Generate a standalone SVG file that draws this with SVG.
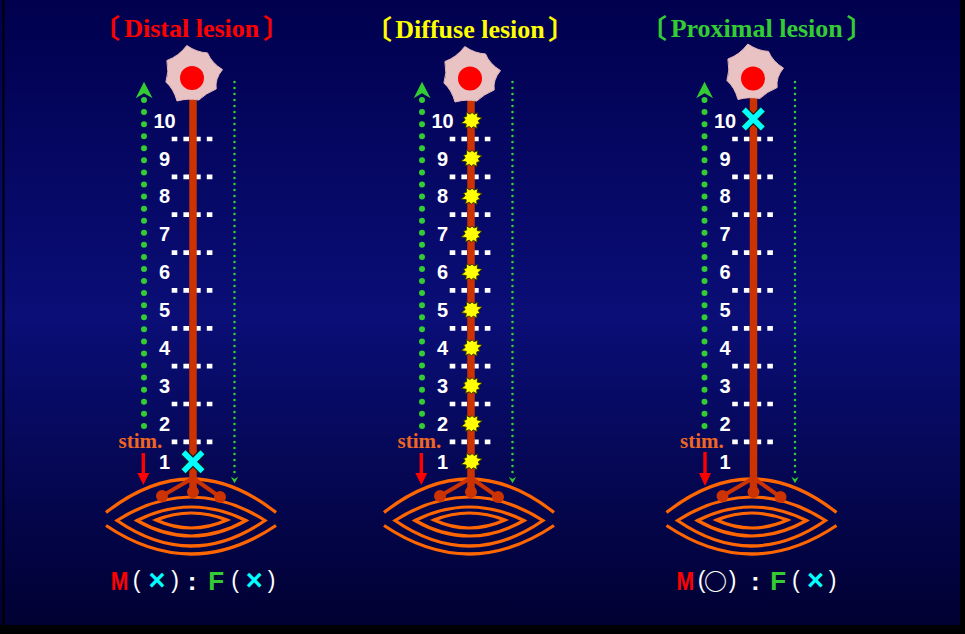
<svg xmlns="http://www.w3.org/2000/svg" width="965" height="634" viewBox="0 0 965 634">
  <defs>
    <linearGradient id="bg" x1="0" y1="0" x2="0" y2="1">
      <stop offset="0" stop-color="#00004e"/>
      <stop offset="0.5" stop-color="#0a0e76"/>
      <stop offset="1" stop-color="#000030"/>
    </linearGradient>
    <!-- cell body outline, centred on 0,0 -->
    <path id="soma" d="M-5.2,-29.5 Q5,-22.5 15.5,-22.1 Q19.4,-12.4 30.5,-5.4 Q22.7,4 24.2,14 Q14,18.2 6.7,25.1 Q-3,22.8 -15,26 Q-18.2,14 -26.1,7 Q-22.8,-3 -25.1,-14.5 Q-13.2,-18.8 -5.2,-29.5Z"/>
    <!-- lesion spark -->
    <polygon id="spark" points="10,0 5.7,1.9 6.5,4.7 3.5,4.9 2.8,8.6 0,6 -2.3,7.1 -3.5,4.9 -7.3,5.3 -5.7,1.9 -10,0 -5.7,-1.9 -6.5,-4.7 -3.5,-4.9 -2.8,-8.6 0,-6 2.3,-7.1 3.5,-4.9 7.3,-5.3 5.7,-1.9"/>
    <!-- nested muscle fibres, centred on 0,0 -->
    <g id="muscle" class="muscle">
      <path d="M-85,-6.5 Q0,-73.5 85,-6.5"/>
      <path d="M-85,6.5 Q0,63.5 85,6.5"/>
      <path d="M-74,1.5 Q0,-45.5 74,1.5 Q0,52.5 -74,1.5Z"/>
      <path d="M-54,1.5 Q0,-25.5 55,1.5 Q0,32.5 -54,1.5Z"/>
      <path d="M-35,1 Q0,-13 36,1 Q0,17 -35,1Z"/>
    </g>
    <!-- conduction block cross -->
    <g id="xmark">
      <path d="M-9.5,-9.5 L9.5,9.5 M9.5,-9.5 L-9.5,9.5" stroke="#1a1a1a" stroke-width="8"/>
      <path d="M-9.5,-9.5 L9.5,9.5 M9.5,-9.5 L-9.5,9.5" stroke="#00ffff" stroke-width="5.5"/>
    </g>
  </defs>
  <style>
    .title { font-family: "Liberation Serif", "Times New Roman", serif; font-weight: bold; font-size: 26px; text-anchor: middle; }
    .brk { font-family: "Noto Sans CJK JP", sans-serif; font-weight: bold; font-size: 27px; }
    .num { font-family: "Liberation Sans", Arial, sans-serif; font-weight: bold; font-size: 20px; fill: #ffffff; text-anchor: middle; }
    .stim { font-family: "Liberation Serif", "Times New Roman", serif; font-weight: bold; font-size: 21px; fill: #ee6622; }
    .lab { font-family: "Liberation Sans", Arial, sans-serif; font-weight: bold; text-anchor: middle; }
    .par { font-family: "Liberation Sans", Arial, sans-serif; font-weight: normal; font-size: 23px; fill: #ffffff; text-anchor: middle; }
    .axon { stroke: #cc3300; stroke-width: 7.5; fill: none; }
    .branch { stroke: #cc3300; stroke-width: 4; fill: none; }
    .term { fill: #cc3300; }
    .seg { stroke: #ffffff; stroke-width: 4.7; stroke-dasharray: 5.6 6.1; }
    .muscle { fill: none; stroke: #ff6600; stroke-width: 3.2; }
    .soma { fill: #e9c2c4; stroke: #e2b6ba; stroke-width: 1; }
    .nucleus { fill: #ff0000; }
    .dotsL { stroke: #33cc33; stroke-width: 6; stroke-linecap: round; stroke-dasharray: 0 12.07; }
    .dotsR { stroke: #33cc33; stroke-width: 2.6; stroke-linecap: round; stroke-dasharray: 0 6; }
    .green { fill: #33cc33; }
    .red { fill: #ff0000; }
    .spark { fill: #ffff00; stroke: #333300; stroke-width: 0.8; }
  </style>

  <!-- slide background -->
  <rect x="0" y="0" width="965" height="634" fill="url(#bg)"/>
  <rect x="2.5" y="0" width="2" height="634" fill="#000000"/>
  <rect x="960" y="0" width="5" height="634" fill="#000000"/>
  <rect x="0" y="625" width="965" height="9" fill="#000000"/>

  <!-- titles -->
  <g id="title-distal">
    <text class="brk" x="120" y="38" text-anchor="end" fill="#ff0000">〔</text>
    <text class="title" x="191.7" y="36.7" fill="#ff0000">Distal lesion</text>
    <text class="brk" x="263" y="38" fill="#ff0000">〕</text>
  </g>
  <g id="title-diffuse">
    <text class="brk" x="392" y="39" text-anchor="end" fill="#ffff00">〔</text>
    <text class="title" x="470" y="37.5" fill="#ffff00">Diffuse lesion</text>
    <text class="brk" x="548" y="39" fill="#ffff00">〕</text>
  </g>
  <g id="title-proximal">
    <text class="brk" x="667" y="38" text-anchor="end" fill="#33cc33">〔</text>
    <text class="title" x="756.7" y="36.7" fill="#33cc33">Proximal lesion</text>
    <text class="brk" x="846.5" y="38" fill="#33cc33">〕</text>
  </g>

  <!-- ============ panel 1: distal lesion ============ -->
  <g id="panel-distal">
    <g id="segments-distal" transform="translate(193,0)">
      <line class="seg" x1="-21.3" y1="139" x2="20.5" y2="139"/>
      <line class="seg" x1="-21.3" y1="176.9" x2="20.5" y2="176.9"/>
      <line class="seg" x1="-21.3" y1="214.7" x2="20.5" y2="214.7"/>
      <line class="seg" x1="-21.3" y1="252.6" x2="20.5" y2="252.6"/>
      <line class="seg" x1="-21.3" y1="290.4" x2="20.5" y2="290.4"/>
      <line class="seg" x1="-21.3" y1="328.3" x2="20.5" y2="328.3"/>
      <line class="seg" x1="-21.3" y1="366.1" x2="20.5" y2="366.1"/>
      <line class="seg" x1="-21.3" y1="404" x2="20.5" y2="404"/>
      <line class="seg" x1="-21.3" y1="441.8" x2="20.5" y2="441.8"/>
      <text class="num" x="-28.5" y="127.6">10</text>
      <text class="num" x="-28.5" y="165.5">9</text>
      <text class="num" x="-28.5" y="203.4">8</text>
      <text class="num" x="-28.5" y="241.3">7</text>
      <text class="num" x="-28.5" y="279.2">6</text>
      <text class="num" x="-28.5" y="317.1">5</text>
      <text class="num" x="-28.5" y="355">4</text>
      <text class="num" x="-28.5" y="392.9">3</text>
      <text class="num" x="-28.5" y="430.8">2</text>
      <text class="num" x="-28.5" y="468.7">1</text>
    </g>
    <g id="muscle-distal"><use href="#muscle" transform="translate(191,519)"/></g>
    <g id="neuron-distal" transform="translate(193,0)">
      <line class="axon" x1="0" y1="95" x2="0" y2="492"/>
      <line class="branch" x1="0" y1="478" x2="-31" y2="496"/>
      <line class="branch" x1="0" y1="478" x2="27" y2="497"/>
      <circle class="term" cx="-31" cy="496" r="6"/>
      <circle class="term" cx="0" cy="492" r="6"/>
      <circle class="term" cx="27" cy="497" r="6"/>
      <use href="#soma" class="soma" transform="translate(-1,75)"/>
      <circle class="nucleus" cx="-1" cy="78" r="12"/>
    </g>
    <g id="block-distal"><use href="#xmark" transform="translate(193,461.7)"/></g>
    <g id="stim-distal" transform="translate(193,0)">
      <text class="stim" x="-74.5" y="447.5">stim.</text>
    </g>
    <g id="label-distal">
      <text class="lab" x="119.5" y="590" font-size="26" fill="#ff0000" textLength="17.6" lengthAdjust="spacingAndGlyphs">M</text>
      <text class="par" x="136.7" y="588">(</text>
      <text class="lab" x="157" y="590" font-size="29" fill="#00ffff">×</text>
      <text class="par" x="175" y="588">)</text>
      <text class="lab" x="192" y="590" font-size="26" fill="#ffffff">:</text>
      <text class="lab" x="216.3" y="590" font-size="26" fill="#33cc33">F</text>
      <text class="par" x="235" y="588">(</text>
      <text class="lab" x="254.2" y="590" font-size="29" fill="#00ffff">×</text>
      <text class="par" x="271.7" y="588">)</text>
    </g>
  </g>

  <!-- ============ panel 2: diffuse lesion ============ -->
  <g id="panel-diffuse">
    <g id="segments-diffuse" transform="translate(471,0)">
      <line class="seg" x1="-21.3" y1="139" x2="20.5" y2="139"/>
      <line class="seg" x1="-21.3" y1="176.9" x2="20.5" y2="176.9"/>
      <line class="seg" x1="-21.3" y1="214.7" x2="20.5" y2="214.7"/>
      <line class="seg" x1="-21.3" y1="252.6" x2="20.5" y2="252.6"/>
      <line class="seg" x1="-21.3" y1="290.4" x2="20.5" y2="290.4"/>
      <line class="seg" x1="-21.3" y1="328.3" x2="20.5" y2="328.3"/>
      <line class="seg" x1="-21.3" y1="366.1" x2="20.5" y2="366.1"/>
      <line class="seg" x1="-21.3" y1="404" x2="20.5" y2="404"/>
      <line class="seg" x1="-21.3" y1="441.8" x2="20.5" y2="441.8"/>
      <text class="num" x="-28.5" y="127.6">10</text>
      <text class="num" x="-28.5" y="165.5">9</text>
      <text class="num" x="-28.5" y="203.4">8</text>
      <text class="num" x="-28.5" y="241.3">7</text>
      <text class="num" x="-28.5" y="279.2">6</text>
      <text class="num" x="-28.5" y="317.1">5</text>
      <text class="num" x="-28.5" y="355">4</text>
      <text class="num" x="-28.5" y="392.9">3</text>
      <text class="num" x="-28.5" y="430.8">2</text>
      <text class="num" x="-28.5" y="468.7">1</text>
    </g>
    <g id="muscle-diffuse"><use href="#muscle" transform="translate(469,519)"/></g>
    <g id="neuron-diffuse" transform="translate(471,0)">
      <line class="axon" x1="0" y1="95" x2="0" y2="492"/>
      <line class="branch" x1="0" y1="478" x2="-31" y2="496"/>
      <line class="branch" x1="0" y1="478" x2="27" y2="497"/>
      <circle class="term" cx="-31" cy="496" r="6"/>
      <circle class="term" cx="0" cy="492" r="6"/>
      <circle class="term" cx="27" cy="497" r="6"/>
      <use href="#soma" class="soma" transform="translate(-1,76)"/>
      <circle class="nucleus" cx="-1" cy="78.5" r="12"/>
    </g>
    <g id="sparks-diffuse" class="spark">
      <use href="#spark" transform="translate(471.7,120.4) rotate(-15) scale(1.08)"/>
      <use href="#spark" transform="translate(471.7,158.3) rotate(-15) scale(1.08)"/>
      <use href="#spark" transform="translate(471.7,196.2) rotate(-15) scale(1.08)"/>
      <use href="#spark" transform="translate(471.7,234.1) rotate(-15) scale(1.08)"/>
      <use href="#spark" transform="translate(471.7,272) rotate(-15) scale(1.08)"/>
      <use href="#spark" transform="translate(471.7,309.9) rotate(-15) scale(1.08)"/>
      <use href="#spark" transform="translate(471.7,347.8) rotate(-15) scale(1.08)"/>
      <use href="#spark" transform="translate(471.7,385.7) rotate(-15) scale(1.08)"/>
      <use href="#spark" transform="translate(471.7,423.6) rotate(-15) scale(1.08)"/>
      <use href="#spark" transform="translate(471.7,461.5) rotate(-15) scale(1.08)"/>
    </g>
    <g id="stim-diffuse" transform="translate(471,0)">
      <text class="stim" x="-73.5" y="447.5">stim.</text>
    </g>
  </g>

  <!-- ============ panel 3: proximal lesion ============ -->
  <g id="panel-proximal">
    <g id="segments-proximal" transform="translate(753.5,0)">
      <line class="seg" x1="-21.3" y1="139" x2="20.5" y2="139"/>
      <line class="seg" x1="-21.3" y1="176.9" x2="20.5" y2="176.9"/>
      <line class="seg" x1="-21.3" y1="214.7" x2="20.5" y2="214.7"/>
      <line class="seg" x1="-21.3" y1="252.6" x2="20.5" y2="252.6"/>
      <line class="seg" x1="-21.3" y1="290.4" x2="20.5" y2="290.4"/>
      <line class="seg" x1="-21.3" y1="328.3" x2="20.5" y2="328.3"/>
      <line class="seg" x1="-21.3" y1="366.1" x2="20.5" y2="366.1"/>
      <line class="seg" x1="-21.3" y1="404" x2="20.5" y2="404"/>
      <line class="seg" x1="-21.3" y1="441.8" x2="20.5" y2="441.8"/>
      <text class="num" x="-28.5" y="127.6">10</text>
      <text class="num" x="-28.5" y="165.5">9</text>
      <text class="num" x="-28.5" y="203.4">8</text>
      <text class="num" x="-28.5" y="241.3">7</text>
      <text class="num" x="-28.5" y="279.2">6</text>
      <text class="num" x="-28.5" y="317.1">5</text>
      <text class="num" x="-28.5" y="355">4</text>
      <text class="num" x="-28.5" y="392.9">3</text>
      <text class="num" x="-28.5" y="430.8">2</text>
      <text class="num" x="-28.5" y="468.7">1</text>
    </g>
    <g id="muscle-proximal"><use href="#muscle" transform="translate(751.5,519)"/></g>
    <g id="neuron-proximal" transform="translate(753.5,0)">
      <line class="axon" x1="0" y1="95" x2="0" y2="492"/>
      <line class="branch" x1="0" y1="478" x2="-31" y2="496"/>
      <line class="branch" x1="0" y1="478" x2="27" y2="497"/>
      <circle class="term" cx="-31" cy="496" r="6"/>
      <circle class="term" cx="0" cy="492" r="6"/>
      <circle class="term" cx="27" cy="497" r="6"/>
      <use href="#soma" class="soma" transform="translate(-0.5,73.5)"/>
      <circle class="nucleus" cx="-0.5" cy="78.5" r="12"/>
    </g>
    <g id="block-proximal"><use href="#xmark" transform="translate(753.3,119)"/></g>
    <g id="stim-proximal" transform="translate(753.5,0)">
      <text class="stim" x="-73.5" y="447.5">stim.</text>
    </g>
    <g id="label-proximal">
      <text class="lab" x="685.3" y="590" font-size="26" fill="#ff0000" textLength="17.6" lengthAdjust="spacingAndGlyphs">M</text>
      <text class="par" x="701.5" y="588">(</text>
      <text class="lab" x="715.6" y="589.5" font-size="23" fill="#ffffff" style="font-family:'Noto Sans CJK JP',sans-serif">○</text>
      <text class="par" x="732.5" y="588">)</text>
      <text class="lab" x="755.3" y="590" font-size="26" fill="#ffffff">:</text>
      <text class="lab" x="778.3" y="590" font-size="26" fill="#33cc33">F</text>
      <text class="par" x="795.8" y="588">(</text>
      <text class="lab" x="815.5" y="590" font-size="29" fill="#00ffff">×</text>
      <text class="par" x="832.5" y="588">)</text>
    </g>
  </g>

  <!-- connectors: conduction paths and stimulus arrows -->
  <g id="connectors">
    <!-- antidromic (F-wave) paths up to the cell body -->
    <line class="dotsL" x1="144" y1="100" x2="144" y2="426"/>
    <polygon class="green" points="144,81.7 152.6,98.3 144,93.3 135.7,98.3"/>
    <line class="dotsL" x1="422" y1="100" x2="422" y2="426"/>
    <polygon class="green" points="422,81.7 430.6,98.3 422,93.3 413.7,98.3"/>
    <line class="dotsL" x1="704.5" y1="100" x2="704.5" y2="426"/>
    <polygon class="green" points="704.5,81.7 713.1,98.3 704.5,93.3 696.2,98.3"/>
    <!-- orthodromic return paths to the muscle -->
    <line class="dotsR" x1="234.5" y1="82" x2="234.5" y2="473"/>
    <polygon class="green" points="234.5,483.3 238.2,476.7 234.5,479 230.8,476.7"/>
    <line class="dotsR" x1="512.5" y1="82" x2="512.5" y2="473"/>
    <polygon class="green" points="512.5,483.3 516.2,476.7 512.5,479 508.8,476.7"/>
    <line class="dotsR" x1="795" y1="82" x2="795" y2="473"/>
    <polygon class="green" points="795,483.3 798.7,476.7 795,479 791.3,476.7"/>
    <!-- stimulus arrows -->
    <rect class="red" x="141.6" y="453" width="3.4" height="21"/>
    <polygon class="red" points="137.3,473 149.3,473 143.3,485"/>
    <rect class="red" x="419.6" y="453" width="3.4" height="21"/>
    <polygon class="red" points="415.3,473 427.3,473 421.3,485"/>
    <rect class="red" x="703.3" y="452" width="3.4" height="22"/>
    <polygon class="red" points="699,473 711,473 705,486"/>
  </g>
</svg>
